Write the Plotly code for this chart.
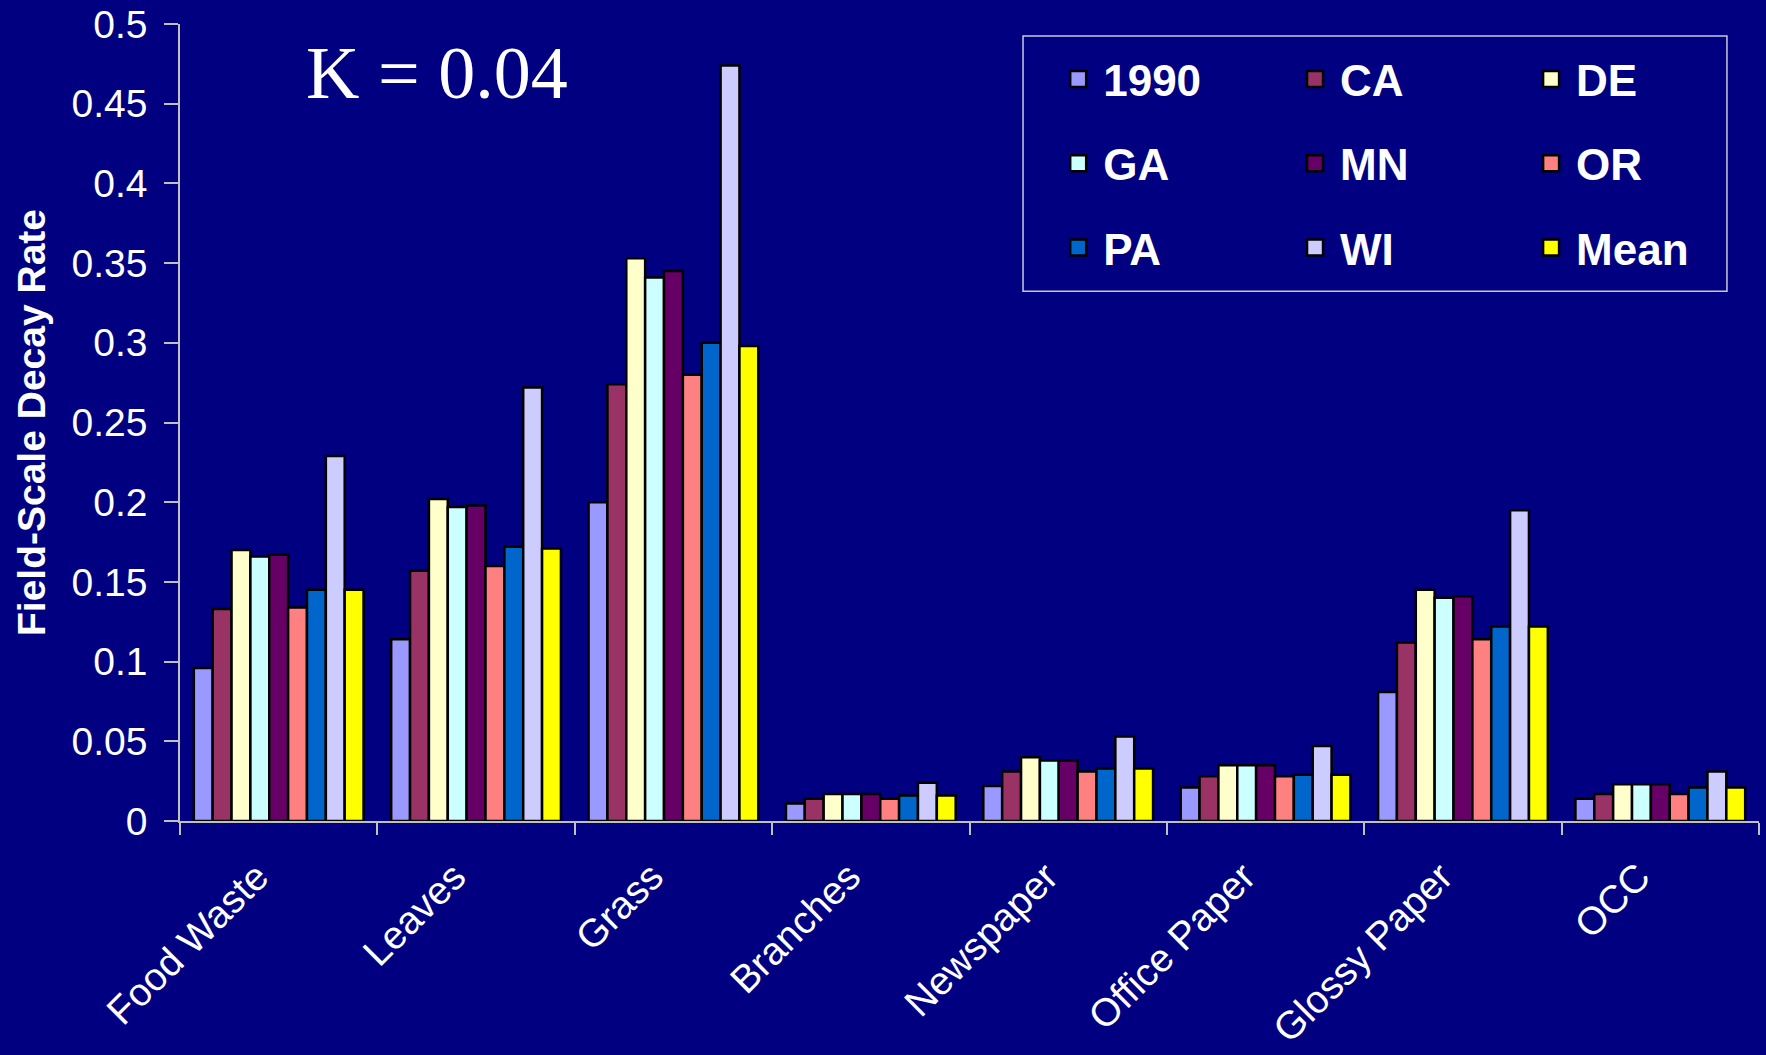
import plotly.graph_objects as go

# Waste categories on the x axis
categories = ["Food Waste", "Leaves", "Grass", "Branches", "Newspaper",
              "Office Paper", "Glossy Paper", "OCC"]

# Field-scale decay rate per category, one list per state / source
rate_1990 = [0.096, 0.114, 0.200, 0.011, 0.022, 0.021, 0.081, 0.014]
rate_CA = [0.133, 0.157, 0.274, 0.014, 0.031, 0.028, 0.112, 0.017]
rate_DE = [0.170, 0.202, 0.353, 0.017, 0.040, 0.035, 0.145, 0.023]
rate_GA = [0.166, 0.197, 0.341, 0.017, 0.038, 0.035, 0.140, 0.023]
rate_MN = [0.167, 0.198, 0.345, 0.017, 0.038, 0.035, 0.141, 0.023]
rate_OR = [0.134, 0.160, 0.280, 0.014, 0.031, 0.028, 0.114, 0.017]
rate_PA = [0.145, 0.172, 0.300, 0.016, 0.033, 0.029, 0.122, 0.021]
rate_WI = [0.229, 0.272, 0.474, 0.024, 0.053, 0.047, 0.195, 0.031]
rate_Mean = [0.145, 0.171, 0.298, 0.016, 0.033, 0.029, 0.122, 0.021]

series_names = ["1990", "CA", "DE", "GA", "MN", "OR", "PA", "WI", "Mean"]
series_values = [rate_1990, rate_CA, rate_DE, rate_GA, rate_MN, rate_OR,
                 rate_PA, rate_WI, rate_Mean]
series_colors = ["#9999FF", "#993366", "#FFFFCC", "#CCFFFF", "#660066",
                 "#FF8080", "#0066CC", "#CCCCFF", "#FFFF00"]

y_ticks = [0, 0.05, 0.1, 0.15, 0.2, 0.25, 0.3, 0.35, 0.4, 0.45, 0.5]
y_tick_text = ["0", "0.05", "0.1", "0.15", "0.2", "0.25", "0.3", "0.35",
               "0.4", "0.45", "0.5"]

NAVY = "#000080"
AXIS_GREY = "#C0C0C0"
SANS = "Liberation Sans, Arial, sans-serif"

# legend laid out as three columns, filled row by row
legend_ids = ["legend", "legend2", "legend3"]
n_cat = len(categories)

fig = go.Figure()
for i, (name, vals, col) in enumerate(zip(series_names, series_values, series_colors)):
    fig.add_trace(go.Bar(
        name=name,
        x=categories,
        y=vals,
        marker=dict(color=col, line=dict(color="#000000", width=2.5)),
        legendgroup=name,
        showlegend=False,
    ))
    # legend-only square key (larger than the default bar key)
    fig.add_trace(go.Scatter(
        name=name,
        x=[None], y=[None],
        mode="markers",
        marker=dict(symbol="square", size=16, color=col,
                    line=dict(color="#000000", width=2.5)),
        legend=legend_ids[i % 3],
        legendgroup=name,
        hoverinfo="skip",
    ))

# category labels, placed on an overlaid axis so they sit a little left of centre
fig.add_trace(go.Scatter(
    x=categories, y=[None] * n_cat, xaxis="x2", mode="markers",
    showlegend=False, hoverinfo="skip",
))

legend_common = dict(
    font=dict(family=SANS, size=44, color="white", weight="bold"),
    bgcolor="rgba(0,0,0,0)",
    borderwidth=0,
    xanchor="left",
    yanchor="top",
    y=0.975,
    tracegroupgap=24,
    itemwidth=40,
)

label_shift = 0.11

fig.update_layout(
    width=1766,
    height=1055,
    paper_bgcolor=NAVY,
    plot_bgcolor=NAVY,
    margin=dict(l=180, r=7, t=24, b=234, autoexpand=False),
    barmode="group",
    bargap=0.14,
    bargroupgap=0,
    showlegend=True,
    legend=dict(x=0.5530, **legend_common),
    legend2=dict(x=0.7030, **legend_common),
    legend3=dict(x=0.8525, **legend_common),
    xaxis=dict(
        type="category",
        automargin=False,
        showgrid=False,
        showline=True,
        linecolor=AXIS_GREY,
        linewidth=1.5,
        ticks="outside",
        tickson="boundaries",
        ticklen=12,
        tickcolor=AXIS_GREY,
        tickwidth=1.5,
        showticklabels=False,
    ),
    xaxis2=dict(
        type="category",
        overlaying="x",
        anchor="y",
        side="bottom",
        automargin=False,
        range=[-0.5 + label_shift, n_cat - 0.5 + label_shift],
        showgrid=False,
        zeroline=False,
        showline=False,
        ticks="",
        tickangle=-45,
        ticklabelstandoff=24,
        tickfont=dict(family=SANS, size=39, color="white"),
    ),
    yaxis=dict(
        range=[0, 0.5],
        automargin=False,
        tickvals=y_ticks,
        ticktext=y_tick_text,
        showgrid=False,
        zeroline=False,
        showline=True,
        linecolor=AXIS_GREY,
        linewidth=1.5,
        ticks="outside",
        ticklen=14,
        tickcolor=AXIS_GREY,
        tickwidth=1.5,
        ticklabelstandoff=9,
        tickfont=dict(family=SANS, size=39, color="white"),
        title=dict(text="Field-Scale Decay Rate", standoff=14,
                   font=dict(family=SANS, size=39, color="white", weight="bold")),
    ),
    shapes=[dict(
        type="rect", xref="paper", yref="paper",
        x0=0.5339, x1=0.9797, y0=0.6646, y1=0.985,
        line=dict(color="#C8C8D8", width=1.5),
        fillcolor="rgba(0,0,0,0)",
    )],
    annotations=[dict(
        text="K = 0.04", xref="paper", yref="paper",
        x=0.1628, y=0.9384, xanchor="center", yanchor="middle",
        showarrow=False,
        font=dict(family="Liberation Serif, Times New Roman, serif", size=74,
                  color="white"),
    )],
)

fig.write_html("out.html")
